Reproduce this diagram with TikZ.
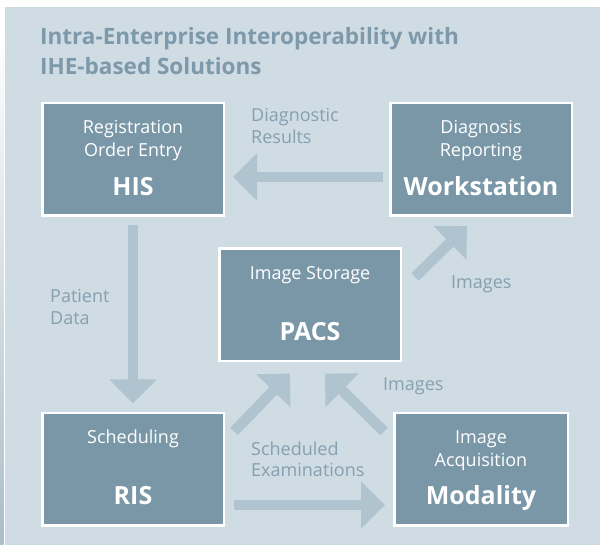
\documentclass[tikz,border=0pt]{standalone}
\usepackage{fontspec}
\setmainfont{Open Sans}
\usetikzlibrary{arrows.meta,calc}
\definecolor{bgc}{HTML}{CFDCE3}
\definecolor{boxc}{HTML}{7A97A8}
\definecolor{arrc}{HTML}{AFC4CF}
\definecolor{lblc}{HTML}{86A0B0}
\definecolor{ttlc}{HTML}{7D99AA}
\definecolor{edgec}{HTML}{A9BEC9}
\begin{document}
\begin{tikzpicture}[x=1pt,y=-1pt,
  box/.style={draw=white, line width=2.5pt, fill=boxc, minimum width=181.5pt, minimum height=112.5pt, inner sep=0pt},
  smalltxt/.style={anchor=base, text=white, font=\fontsize{18}{22}\selectfont, inner sep=0pt},
  bigtxt/.style={anchor=base, text=white, font=\fontsize{25}{30}\selectfont\bfseries, inner sep=0pt},
  lbl/.style={anchor=base west, text=lblc, font=\fontsize{18}{22}\selectfont, inner sep=0pt},
  ttl/.style={anchor=base west, text=ttlc, font=\fontsize{22.5}{30}\selectfont\bfseries, inner sep=0pt},
  bigarrow/.style={draw=arrc, line width=10.5pt, -{Triangle[width=46pt,length=24pt]}}
]
\useasboundingbox (0,0) rectangle (600,545);
\fill[bgc] (5,7) rectangle (600,545);
\shade[top color=white, bottom color=edgec] (0,30) rectangle (3.5,545);

% title
\node[ttl] (t1) at (40,45) {Intra-Enterprise Interoperability with};
\node[ttl] (t2) at (40,75) {IHE-based Solutions};

% boxes
\node[box] (his) at (133,159.5) {};
\node[box] (ws)  at (481,159.5) {};
\node[box] (pacs) at (310,305) {};
\node[box] (ris) at (133,469) {};
\node[box, minimum width=173.5pt] (mod) at (481,469) {};

% box texts
\node[smalltxt] (his1) at (133,134) {Registration};
\node[smalltxt] (his2) at (133,157) {Order Entry};
\node[bigtxt]   (his3) at (133,196) {HIS};
\node[smalltxt] (ws1) at (481,134) {Diagnosis};
\node[smalltxt] (ws2) at (481,157) {Reporting};
\node[bigtxt]   (ws3) at (481,196) {Workstation};
\node[smalltxt] (pacs1) at (310,280) {Image Storage};
\node[bigtxt]   (pacs2) at (310,341) {PACS};
\node[smalltxt] (ris1) at (133,443) {Scheduling};
\node[bigtxt]   (ris2) at (133,504) {RIS};
\node[smalltxt] (mod1) at (481,443) {Image};
\node[smalltxt] (mod2) at (481,466) {Acquisition};
\node[bigtxt]   (mod3) at (481,504) {Modality};

% arrows
\draw[bigarrow, shorten <=6pt, shorten >=8pt] ([yshift=-17.5pt]ws.west) -- ([yshift=-17.5pt]his.east);
\draw[bigarrow, shorten <=8pt, shorten >=8pt] (his.south) -- (ris.north);
\draw[bigarrow, shorten <=9pt, shorten >=8pt] ([yshift=-36pt]ris.east) -- ([yshift=-36pt]mod.west);
\draw[bigarrow] ([shift={(9pt,-20pt)}]ris.north east) -- ([shift={(-20pt,-11pt)}]pacs.south);
\draw[bigarrow] ([shift={(-9pt,-20pt)}]mod.north west) -- ([shift={(15pt,-11pt)}]pacs.south);
\draw[bigarrow] ([shift={(13pt,28pt)}]pacs.east) -- ([shift={(-14pt,-9pt)}]ws.south);

% labels
\node[lbl] (l1) at (251,122) {Diagnostic};
\node[lbl] (l2) at (251,144) {Results};
\node[lbl] (l3) at (50,303) {Patient};
\node[lbl] (l4) at (50,325) {Data};
\node[lbl] (l5) at (451,289) {Images};
\node[lbl] (l6) at (383,391) {Images};
\node[lbl] (l7) at (251,455) {Scheduled};
\node[lbl] (l8) at (251,476) {Examinations};
\end{tikzpicture}
\end{document}
